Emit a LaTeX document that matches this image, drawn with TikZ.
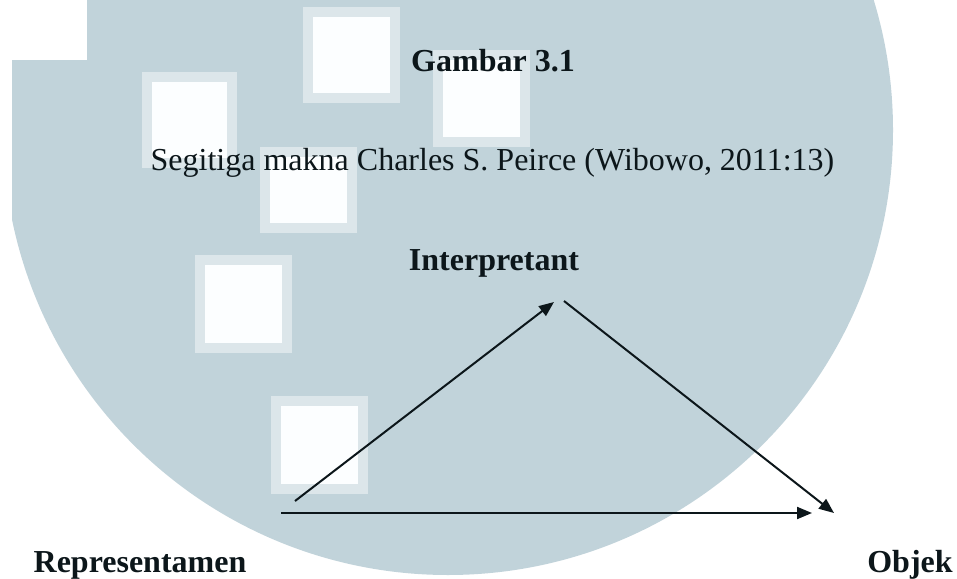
\documentclass[tikz,border=0pt]{standalone}
\usepackage{fontspec}
\setmainfont{Liberation Serif}
\usetikzlibrary{arrows.meta, positioning}
\definecolor{latar}{RGB}{193,211,218}
\definecolor{tepi}{RGB}{220,230,234}
\definecolor{putih}{RGB}{252,254,255}
\definecolor{tinta}{RGB}{12,22,26}
\tikzset{
  label/.style={inner sep=0pt, anchor=base, text=tinta,
    font=\fontsize{32}{38}\selectfont}, % all texts sit on their baseline
  tebal/.style={label, font=\fontsize{32}{38}\selectfont\bfseries},
  panah/.style={draw=tinta, line width=2pt,
    -{Triangle[length=15pt, width=12pt]}},
}

\begin{document}
\begin{tikzpicture}[x=1pt, y=-1pt]
    \useasboundingbox (0,0) rectangle (957,578);

    % watermark behind the figure
    \begin{scope}
      \clip (12,578) -- (12,60) -- (87,60) -- (87,0) -- (957,0)
        -- (957,578) -- cycle;
      \fill[latar] (448,130) circle[radius=445pt];
    \end{scope}
    \foreach \x/\y/\w/\h in {142/72/95/96, 303/7/97/96, 433/50/97/97,
      260/147/97/86, 195/255/97/98, 271/396/97/98} {
      \fill[tepi] (\x,\y) rectangle ++(\w,\h);
      \fill[putih] (\x+10,\y+10) rectangle ++(\w-20,\h-20);
    }

    \node[tebal] (judul) at (493,71) {Gambar 3.1};
    \node[label] (ket) at (492.5,170)
      {Segitiga makna Charles S. Peirce (Wibowo, 2011:13)};

    \node[tebal] (interpretant) at (494,270) {Interpretant};
    \node[tebal] (representamen) at (140,572) {Representamen};
    \node[tebal] (objek) at (910,572) {Objek};

    % free ends of the three arrows
    \coordinate (repr_atas) at (295,501);
    \coordinate (repr_bawah) at (281,513);
    \coordinate (interp_kiri) at (554,302);
    \coordinate (interp_kanan) at (564,301);
    \coordinate (objek_atas) at (834,513);
    \coordinate (objek_kiri) at (812,513);

    \draw[panah] (repr_atas) -- (interp_kiri);
    \draw[panah] (interp_kanan) -- (objek_atas);
    \draw[panah] (repr_bawah) -- (objek_kiri);
\end{tikzpicture}
\end{document}
